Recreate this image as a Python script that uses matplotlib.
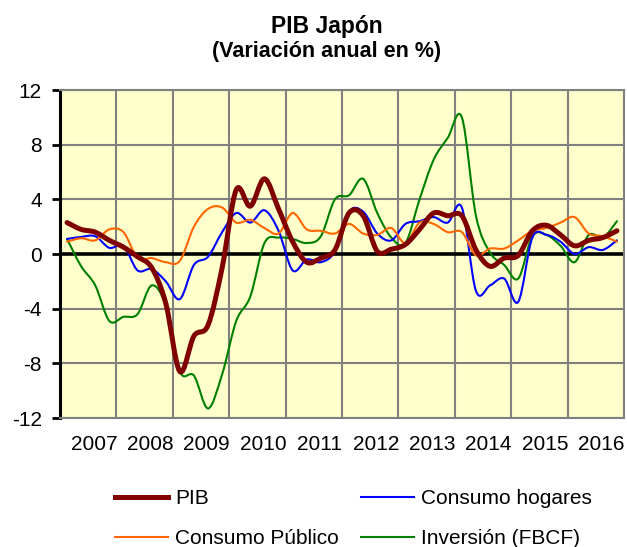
import numpy as np
import matplotlib.pyplot as plt
from matplotlib.path import Path
from matplotlib.patches import PathPatch
from matplotlib.lines import Line2D

plt.rcParams['font.family'] = ['Liberation Sans', 'DejaVu Sans']
plt.rcParams['axes.unicode_minus'] = False

# Datos trimestrales 2007T1 - 2016T4 (variación anual en %)
years = ['2007', '2008', '2009', '2010', '2011', '2012', '2013', '2014', '2015', '2016']

pib = [2.3, 1.8, 1.6, 1.0, 0.5, -0.2, -1.0, -3.6, -8.6, -6.0,
       -5.2, -1.0, 4.7, 3.5, 5.5, 3.3, 0.9, -0.6, -0.3, 0.3,
       3.0, 2.8, 0.2, 0.35, 0.7, 1.8, 3.0, 2.8, 2.8, 0.3,
       -0.9, -0.3, -0.1, 1.7, 2.1, 1.4, 0.6, 1.0, 1.2, 1.7]

hogares = [1.1, 1.25, 1.3, 0.45, 0.6, -1.2, -1.1, -2.0, -3.3, -0.8,
           -0.2, 1.6, 3.0, 2.3, 3.2, 1.7, -1.2, -0.4, -0.6, 0.2,
           3.1, 3.1, 1.5, 1.0, 2.2, 2.4, 2.7, 2.3, 3.4, -2.7,
           -2.3, -1.8, -3.5, 1.2, 1.4, 0.9, 0.0, 0.5, 0.3, 1.0]

publico = [0.9, 1.15, 1.0, 1.8, 1.6, -0.3, -0.3, -0.6, -0.5, 2.0,
           3.3, 3.4, 2.3, 2.5, 1.9, 1.5, 3.0, 1.8, 1.7, 1.5,
           2.2, 1.5, 1.4, 1.9, 0.8, 2.3, 2.2, 1.6, 1.6, -0.1,
           0.4, 0.4, 1.0, 1.7, 1.9, 2.3, 2.7, 1.5, 1.3, 0.9]

inversion = [1.1, -0.9, -2.3, -4.9, -4.6, -4.4, -2.3, -3.8, -8.6, -8.9,
             -11.3, -8.8, -4.9, -3.1, 0.8, 1.2, 1.1, 0.8, 1.3, 4.0,
             4.3, 5.5, 3.0, 1.2, 0.8, 4.0, 6.9, 8.5, 10.0, 2.8,
             0.1, -0.8, -1.8, 1.3, 1.4, 0.6, -0.6, 1.4, 1.2, 2.4]


def curva_suave(x, y):
    # linea suavizada tipo Excel (Bezier con tension 1/6)
    p = np.column_stack([x, y])
    n = len(p)
    verts = [p[0]]
    codes = [Path.MOVETO]
    for i in range(n - 1):
        p0 = p[max(i - 1, 0)]
        p1 = p[i]
        p2 = p[i + 1]
        p3 = p[min(i + 2, n - 1)]
        verts += [p1 + (p2 - p0) / 6, p2 - (p3 - p1) / 6, p2]
        codes += [Path.CURVE4] * 3
    return Path(verts, codes)


fig = plt.figure(figsize=(6.27, 5.47), dpi=100)
ax = fig.add_axes([60 / 627, 1 - 418 / 547, 564 / 627, 328 / 547])
ax.set_facecolor('#FFFFCC')

x = np.arange(len(pib)) + 0.5

series = [
    (pib, '#800000', 3.6, 'PIB'),
    (publico, '#FF6600', 1.5, 'Consumo Público'),
    (hogares, '#0000FF', 1.5, 'Consumo hogares'),
    (inversion, '#008000', 1.5, 'Inversión (FBCF)'),
]

ax.axhline(0, color='black', lw=2.6, zorder=2)
# orden de dibujo: inversion, hogares, publico, pib encima
for datos, color, lw, nombre in [series[3], series[2], series[1], series[0]]:
    ax.add_patch(PathPatch(curva_suave(x, datos), facecolor='none',
                           edgecolor=color, lw=lw, zorder=3,
                           capstyle='round', joinstyle='round'))

ax.set_xlim(0, 40)
ax.set_ylim(-12, 12)
ax.set_yticks([-12, -8, -4, 0, 4, 8, 12])
ax.set_xticks(np.arange(len(years)) * 4 + 2.4)
ax.set_xticklabels(years)
ax.set_xticks(np.arange(4, 40, 4), minor=True)

ax.grid(True, axis='y', color='#808080', lw=1.5, zorder=1)
ax.grid(True, axis='x', which='minor', color='#808080', lw=1.5, zorder=1)
ax.set_axisbelow(True)

ax.tick_params(axis='y', direction='out', length=6, width=2, pad=7,
               labelsize=15, color='black')
ax.tick_params(axis='x', which='both', length=0, pad=12, labelsize=15)

for s in ['top', 'right', 'bottom']:
    ax.spines[s].set_color('#808080')
    ax.spines[s].set_linewidth(1.5)
ax.spines['left'].set_color('black')
ax.spines['left'].set_linewidth(2.2)

fig.text(327 / 627, 1 - 26 / 547, 'PIB Japón', ha='center', va='center',
         fontsize=16.5, fontweight='bold')
fig.text(327 / 627, 1 - 52 / 547, '(Variación anual en %)', ha='center',
         va='center', fontsize=15.5, fontweight='bold')

handles = [Line2D([], [], color=c, lw=lw) for _, c, lw, _ in series]
labels = [n for _, _, _, n in series]
fig.legend(handles, labels, ncol=2, loc='upper left',
           bbox_to_anchor=(105 / 627, 1 - 479 / 547), frameon=False,
           fontsize=15, borderpad=0, handlelength=2.5, handletextpad=0.35,
           columnspacing=1.1, labelspacing=1.0)

fig.savefig('out.png', dpi=100)
